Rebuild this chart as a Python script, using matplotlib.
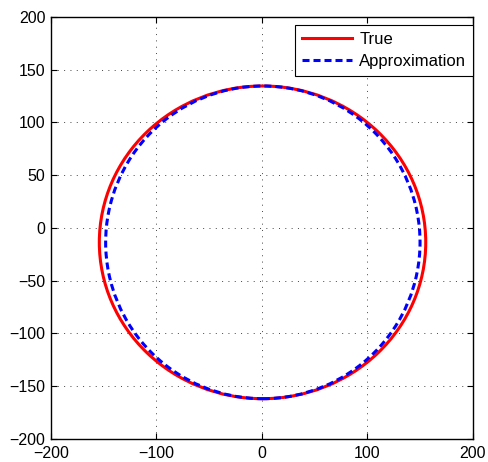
import matplotlib
matplotlib.use("Agg")
import matplotlib.pyplot as plt
from matplotlib.patches import Ellipse
from matplotlib.lines import Line2D

plt.rcParams['font.family'] = ['Liberation Sans', 'DejaVu Sans']

# ellipse fits: (center x, center y, semi-axis x, semi-axis y)
true_center = (0.5, -13.6)
true_radii = (154.7, 148.2)
approx_center = (0.8, -13.6)
approx_radii = (149.0, 148.2)

ticks = [-200, -150, -100, -50, 0, 50, 100, 150, 200]
xticks = [-200, -100, 0, 100, 200]

LW = 2.2
DASH = (0, (2.3, 1.3))

fig = plt.figure(figsize=(4.89, 4.62), dpi=100)
ax = fig.add_axes([51 / 489, 1 - 439 / 462, 422 / 489, 422 / 462])

ax.add_patch(Ellipse(true_center, 2 * true_radii[0], 2 * true_radii[1],
                     fill=False, edgecolor='#ff0000', linewidth=LW, zorder=3))
ax.add_patch(Ellipse(approx_center, 2 * approx_radii[0], 2 * approx_radii[1],
                     fill=False, edgecolor='#0000ff', linewidth=LW,
                     linestyle=DASH, zorder=4))

ax.set_xlim(-200, 200)
ax.set_ylim(-200, 200)
ax.set_xticks(xticks)
ax.set_yticks(ticks)
ax.set_xticklabels(['\u2212200', '\u2212100', '0', '100', '200'])
ax.set_yticklabels([('\u2212' + str(-t)) if t < 0 else str(t) for t in ticks])
ax.tick_params(direction='in', length=4, width=0.8, labelsize=11.5,
               top=True, right=True, colors='black')
ax.tick_params(axis='x', pad=5)
ax.tick_params(axis='y', pad=4)
ax.grid(True, color='#444444', linestyle=(0, (1, 5.5)), linewidth=0.7)
for sp in ax.spines.values():
    sp.set_linewidth(1.0)

handles = [Line2D([], [], color='#ff0000', linewidth=LW),
           Line2D([], [], color='#0000ff', linewidth=LW, linestyle=DASH)]
leg = ax.legend(handles, ['True', 'Approximation'], loc='upper right',
                bbox_to_anchor=(1.0, 1 - 8 / 422),
                fontsize=12, fancybox=False, framealpha=1, edgecolor='black',
                borderaxespad=0.0, handlelength=3.0, borderpad=0.4,
                labelspacing=0.45, handletextpad=0.45)
leg.get_frame().set_linewidth(0.8)

fig.savefig('out.png', dpi=100)
